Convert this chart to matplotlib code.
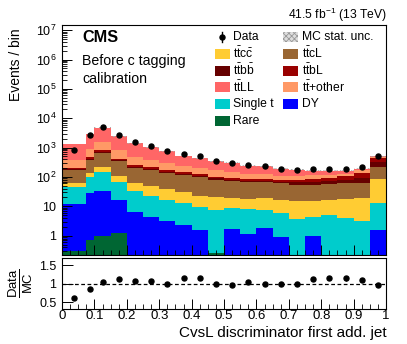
import matplotlib
matplotlib.use("Agg")
import matplotlib.pyplot as plt
import numpy as np
from matplotlib.patches import Rectangle
from matplotlib.lines import Line2D
from matplotlib.ticker import FixedLocator, MultipleLocator, FuncFormatter, LogLocator, NullFormatter

plt.rcParams['font.family'] = ['Liberation Sans', 'DejaVu Sans']
plt.rcParams['mathtext.fontset'] = 'custom'
plt.rcParams['mathtext.rm'] = 'Liberation Sans'
plt.rcParams['mathtext.it'] = 'Liberation Sans:italic'
plt.rcParams['mathtext.bf'] = 'Liberation Sans:bold'
plt.rcParams['hatch.linewidth'] = 0.6

# binning (first two bins are not 0.05 wide)
bin_edges = [0, 0.075, 0.1, 0.15, 0.2, 0.25, 0.3, 0.35, 0.4, 0.45, 0.5,
             0.55, 0.6, 0.65, 0.7, 0.75, 0.8, 0.85, 0.9, 0.95, 1.0]

# stacked backgrounds, bottom to top
rare = [0.29, 0.73, 0.95, 1.23, 0, 0, 0, 0, 0, 0.26, 0, 0, 0, 0, 0, 0, 0, 0, 0, 0]
dy = [12, 27.6, 33, 15.6, 6.2, 4.3, 3.1, 2.4, 1.6, 0, 1.7, 1.14, 1.8, 0.9, 0, 1.0, 0, 0, 0, 1.6]
single_t = [35, 70.7, 112, 50, 27.8, 18.6, 13.7, 10.5, 7.8, 7.4, 7.0, 6.9, 5.8, 5.0, 3.8, 3.3, 4.9, 4.0, 3.1, 11.3]
ttcc = [14.5, 36, 65, 43, 27.8, 24.7, 21.9, 16.9, 13.5, 13, 10.4, 9.6, 11.4, 10.9, 10.9, 11.2, 11.9, 13.7, 16, 72]
ttcl = [105, 230, 438, 228, 138, 128, 96, 89, 76, 59, 51.4, 47.5, 46, 45, 39.6, 38.8, 41.9, 44.1, 42.7, 126]
ttbb = [15, 49, 68, 35, 27, 18, 18, 12, 13, 11, 9, 9, 9, 6.4, 11.6, 14, 14.5, 19, 30, 110]
ttbl = [18, 60, 82, 43, 33, 23, 23, 15, 16, 13, 11.5, 10.8, 10.8, 7.8, 14.1, 16.7, 17.8, 23.2, 50, 125]
ttother = [185, 436, 736, 426, 214, 168, 120, 94, 72, 72, 52, 40, 40, 34, 30, 34, 28, 24, 30, 45]
ttll = [950, 2060, 3265, 1550, 911, 626, 450, 283, 234, 162, 162, 120, 103, 78, 64, 46, 41, 33, 20, 20]
mc_unc = [0.02, 0.015, 0.015, 0.015, 0.02, 0.02, 0.02, 0.025, 0.025, 0.03, 0.03, 0.03, 0.03, 0.035,
          0.035, 0.035, 0.04, 0.04, 0.04, 0.03]

data = [842, 2590, 5000, 2725, 1496, 1092, 739, 601, 499, 338, 296, 260, 230, 190, 176, 185, 185, 185, 211, 499]
ratio = [0.63, 0.87, 1.04, 1.14, 1.08, 1.08, 0.99, 1.15, 1.15, 1.00, 0.97, 1.06, 1.01, 1.01, 1.01,
         1.12, 1.16, 1.15, 1.10, 0.98]
ratio_err = [0.01, 0.01, 0.01, 0.01, 0.01, 0.015, 0.02, 0.02, 0.02, 0.02, 0.025, 0.035, 0.035, 0.04,
             0.045, 0.055, 0.06, 0.06, 0.05, 0.02]

W, H = 407, 344
fig = plt.figure(figsize=(W / 100, H / 100), dpi=100)


def fx(x):
    return x / W


def fy(y):
    return 1 - y / H


ax = fig.add_axes([fx(62), fy(255), fx(386) - fx(62), fy(25) - fy(255)])
ax2 = fig.add_axes([fx(62), fy(309), fx(386) - fx(62), fy(258) - fy(309)])

edges = np.array(bin_edges)
left = edges[:-1]
width = np.diff(edges)
centers = left + width / 2

layers = [
    (rare, '#006633', 'Rare'),
    (dy, '#0000ff', 'DY'),
    (single_t, '#00cccc', 'Single t'),
    (ttcc, '#ffcc33', r'$\mathrm{t\bar{t}c\bar{c}}$'),
    (ttcl, '#996633', r'$\mathrm{t\bar{t}cL}$'),
    (ttbb, '#660000', r'$\mathrm{t\bar{t}b\bar{b}}$'),
    (ttbl, '#990000', r'$\mathrm{t\bar{t}bL}$'),
    (ttother, '#ff9966', r'$\mathrm{t\bar{t}}$+other'),
    (ttll, '#ff6666', r'$\mathrm{t\bar{t}LL}$'),
]

ax.set_yscale('log')
bottom = np.full(len(left), 1e-3)
for vals, col, lab in layers:
    vals = np.array(vals, dtype=float)
    ax.bar(left, vals, width=width, bottom=bottom, align='edge', color=col, linewidth=0)
    bottom = bottom + vals

total = bottom
unc = np.array(mc_unc)
ax.bar(left, 2 * total * unc, width=width, bottom=total * (1 - unc), align='edge',
       facecolor='none', edgecolor='#aaaaaa', hatch='xxxxxx', linewidth=0)

data = np.array(data, dtype=float)
ax.errorbar(centers, data, yerr=np.sqrt(data), fmt='o', color='k', ms=3.6, elinewidth=1, capsize=0)

ax.set_xlim(0, 1)
ax.set_ylim(0.22, 1.5e7)


def log_label(v, pos):
    e = int(round(np.log10(v)))
    if e == 0:
        return '1'
    if e == 1:
        return '10'
    return r'$10^{%d}$' % e


ax.yaxis.set_major_locator(FixedLocator([1, 10, 1e2, 1e3, 1e4, 1e5, 1e6, 1e7]))
ax.yaxis.set_major_formatter(FuncFormatter(log_label))
ax.yaxis.set_minor_locator(LogLocator(base=10, subs=np.arange(2, 10), numticks=20))
ax.yaxis.set_minor_formatter(NullFormatter())
ax.xaxis.set_major_locator(MultipleLocator(0.1))
ax.xaxis.set_minor_locator(MultipleLocator(0.025))
ax.tick_params(axis='x', labelbottom=False)
for a in (ax, ax2):
    a.tick_params(which='major', direction='in', length=7, width=0.7, labelsize=9, pad=4)
    a.tick_params(which='minor', direction='in', length=3.5, width=0.6)
    for s in a.spines.values():
        s.set_linewidth(0.8)

# ratio panel
ax2.errorbar(centers, ratio, yerr=ratio_err, fmt='o', color='k', ms=3.6, elinewidth=1, capsize=0)
ax2.axhline(1, ls='--', color='k', lw=0.9, dashes=(3, 2))
ax2.set_xlim(0, 1)
ax2.set_ylim(0.32, 1.7)
ax2.yaxis.set_major_locator(FixedLocator([0.5, 1, 1.5]))
ax2.yaxis.set_major_formatter(FuncFormatter(lambda v, p: '%g' % v))
ax2.xaxis.set_major_locator(MultipleLocator(0.1))
ax2.xaxis.set_minor_locator(MultipleLocator(0.025))
ax2.xaxis.set_major_formatter(FuncFormatter(lambda v, p: '%g' % round(v, 2)))
ax2.tick_params(axis='x', labelsize=9.5, pad=1)
ax2.tick_params(axis='y', which='major', length=8)

# texts
fig.text(fx(387), fy(15), r'41.5 fb$^{-1}$ (13 TeV)', ha='right', va='center', fontsize=8.7)
fig.text(fx(82), fy(37), 'CMS', ha='left', va='center', fontsize=11.7, fontweight='bold')
fig.text(fx(82), fy(61), 'Before c tagging', ha='left', va='center', fontsize=10.2)
fig.text(fx(82), fy(79), 'calibration', ha='left', va='center', fontsize=10.2)
fig.text(fx(16), fy(28), 'Events / bin', rotation=90, ha='center', va='top', fontsize=10)
fig.text(fx(21), fy(283), r'$\frac{\mathrm{Data}}{\mathrm{MC}}$', rotation=90, ha='center', va='center',
         fontsize=13.5)
fig.text(fx(387), fy(333), 'CvsL discriminator first add. jet', ha='right', va='center', fontsize=11)

# legend, drawn by hand in two columns
col1 = [('data', None, 'Data'),
        ('box', '#ffcc33', layers[3][2]),
        ('box', '#660000', layers[5][2]),
        ('box', '#ff6666', layers[8][2]),
        ('box', '#00cccc', 'Single t'),
        ('box', '#006633', 'Rare')]
col2 = [('hatch', None, 'MC stat. unc.'),
        ('box', '#996633', layers[4][2]),
        ('box', '#990000', layers[6][2]),
        ('box', '#ff9966', layers[7][2]),
        ('box', '#0000ff', 'DY')]
row0, step = 37, 16.8
for bx, tx, entries in ((215, 233, col1), (283, 302, col2)):
    for i, (kind, col, lab) in enumerate(entries):
        yc = row0 + i * step
        if kind == 'data':
            fig.add_artist(Line2D([fx(bx + 7)] * 2, [fy(yc - 5), fy(yc + 5)], color='k', lw=1,
                                  transform=fig.transFigure))
            fig.add_artist(Line2D([fx(bx + 7)], [fy(yc)], marker='o', ms=3.6, color='k',
                                  transform=fig.transFigure))
        elif kind == 'hatch':
            fig.add_artist(Rectangle((fx(bx), fy(yc + 5)), fx(15), 10 / H, facecolor='#dddddd',
                                     edgecolor='#999999', hatch='xxxxxx', linewidth=0,
                                     transform=fig.transFigure))
        else:
            fig.add_artist(Rectangle((fx(bx), fy(yc + 5)), fx(15), 10 / H, facecolor=col,
                                     edgecolor='none', transform=fig.transFigure))
        fig.text(fx(tx), fy(yc), lab, ha='left', va='center', fontsize=8.7)

fig.savefig('out.png', dpi=100)
